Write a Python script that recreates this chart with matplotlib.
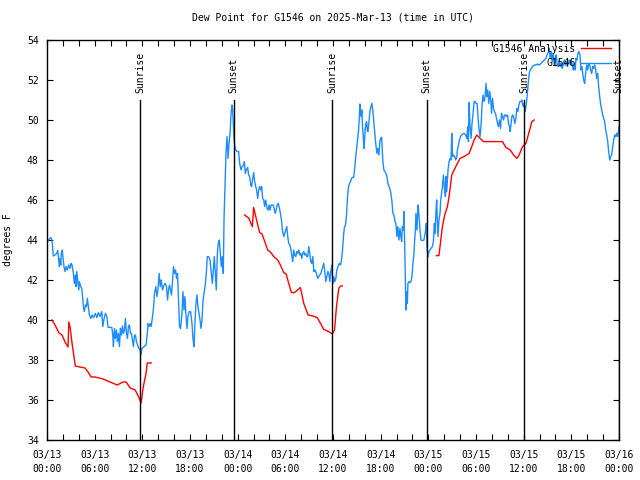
import numpy as np
import matplotlib
matplotlib.use('Agg')
import matplotlib.pyplot as plt

## Datos (horas desde 03/13 00:00 UTC, punto de rocio en F)

obs_horas = [0.0, 0.04, 0.16, 0.38, 0.50, 0.63, 0.72, 0.79, 1.01, 1.22, 1.35, 1.42, 1.55, 1.64, 1.73, 1.80,
             1.93, 2.02, 2.14, 2.27, 2.40, 2.56, 2.74, 2.90, 3.03, 3.15, 3.32, 3.44, 3.57, 3.66, 3.75, 3.87,
             4.00, 4.07, 4.25, 4.38, 4.50, 4.58, 4.70, 4.83, 4.96, 5.08, 5.21, 5.33, 5.51, 5.67, 5.84, 6.09,
             6.27, 6.47, 6.68, 6.90, 7.02, 7.19, 7.35, 7.53, 7.69, 7.94, 8.16, 8.28, 8.36, 8.49, 8.61, 8.74,
             8.86, 8.99, 9.12, 9.24, 9.37, 9.50, 9.62, 9.75, 9.87, 10.00, 10.13, 10.25, 10.38, 10.50, 10.63,
             10.76, 10.88, 11.01, 11.13, 11.26, 11.44, 11.56, 11.73, 11.82, 11.94, 12.23, 12.48, 12.65,
             12.70, 12.86, 12.99, 13.11, 13.28, 13.40, 13.53, 13.71, 13.83, 13.96, 14.12, 14.25, 14.38,
             14.54, 14.72, 14.88, 15.04, 15.17, 15.30, 15.42, 15.55, 15.67, 15.80, 15.93, 16.05, 16.18,
             16.31, 16.43, 16.56, 16.68, 16.81, 16.99, 17.11, 17.24, 17.36, 17.49, 17.62, 17.74, 17.91,
             18.07, 18.25, 18.37, 18.50, 18.63, 18.75, 18.88, 19.00, 19.13, 19.26, 19.38, 19.51, 19.63,
             19.76, 19.92, 20.05, 20.18, 20.34, 20.52, 20.68, 20.81, 20.93, 21.06, 21.19, 21.31, 21.44,
             21.56, 21.69, 21.82, 21.94, 22.07, 22.19, 22.28, 22.41, 22.53, 22.66, 22.79, 22.91, 23.04,
             23.17, 23.29, 23.37, 23.46, 23.54, 23.62, 23.75, 23.92, 24.12, 24.25, 24.43, 24.55, 24.68,
             24.84, 24.97, 25.09, 25.26, 25.38, 25.51, 25.64, 25.76, 25.89, 26.01, 26.14, 26.27, 26.39,
             26.52, 26.65, 26.77, 26.90, 27.02, 27.15, 27.28, 27.40, 27.53, 27.70, 27.83, 27.96, 28.08,
             28.21, 28.33, 28.46, 28.59, 28.71, 28.84, 28.97, 29.09, 29.22, 29.38, 29.51, 29.63, 29.80,
             29.92, 30.05, 30.18, 30.30, 30.43, 30.55, 30.68, 30.81, 30.93, 31.06, 31.18, 31.31, 31.44,
             31.56, 31.69, 31.82, 31.94, 32.07, 32.19, 32.32, 32.45, 32.57, 32.70, 32.82, 32.95, 33.08,
             33.20, 33.33, 33.46, 33.58, 33.71, 33.83, 33.96, 34.09, 34.21, 34.34, 34.46, 34.59, 34.72,
             34.84, 34.97, 35.09, 35.22, 35.35, 35.47, 35.60, 35.72, 35.85, 35.98, 36.10, 36.23, 36.36,
             36.48, 36.78, 36.95, 37.07, 37.20, 37.33, 37.45, 37.58, 37.70, 37.83, 37.96, 38.08, 38.21,
             38.33, 38.46, 38.59, 38.71, 38.84, 38.96, 39.09, 39.22, 39.31, 39.38, 39.47, 39.56, 39.63,
             39.72, 39.81, 39.89, 39.97, 40.06, 40.14, 40.23, 40.31, 40.39, 40.48, 40.57, 40.64, 40.77,
             40.89, 40.98, 41.07, 41.15, 41.27, 41.40, 41.53, 41.65, 41.78, 41.90, 41.99, 42.12, 42.21,
             42.28, 42.41, 42.53, 42.66, 42.79, 42.91, 43.04, 43.16, 43.29, 43.42, 43.54, 43.67, 43.80,
             43.92, 44.05, 44.17, 44.30, 44.43, 44.55, 44.64, 44.73, 44.85, 44.93, 45.02, 45.11, 45.18,
             45.27, 45.36, 45.43, 45.56, 45.69, 45.81, 45.94, 46.06, 46.19, 46.28, 46.37, 46.44, 46.57,
             46.70, 46.82, 46.95, 47.07, 47.25, 47.45, 47.63, 47.75, 47.83, 47.95, 48.08, 48.21, 48.33,
             48.51, 48.64, 48.76, 48.84, 48.97, 49.05, 49.14, 49.22, 49.34, 49.47, 49.56, 49.77, 49.90,
             50.02, 50.15, 50.23, 50.31, 50.48, 50.61, 50.73, 50.86, 50.95, 51.04, 51.16, 51.32, 51.45,
             51.58, 51.66, 51.79, 51.92, 52.08, 52.30, 52.50, 52.71, 52.84, 52.96, 53.05, 53.13, 53.25,
             53.38, 53.50, 53.63, 53.76, 53.88, 54.01, 54.14, 54.26, 54.39, 54.51, 54.64, 54.77, 54.89,
             55.02, 55.14, 55.27, 55.36, 55.48, 55.61, 55.74, 55.86, 55.95, 56.08, 56.20, 56.33, 56.45,
             56.58, 56.71, 56.83, 56.96, 57.09, 57.21, 57.34, 57.46, 57.59, 57.72, 57.84, 57.97, 58.09,
             58.22, 58.30, 58.39, 58.51, 58.64, 58.77, 58.89, 59.02, 59.14, 59.27, 59.40, 59.52, 59.65,
             59.78, 59.94, 60.07, 60.19, 60.32, 60.45, 60.57, 60.70, 60.82, 60.95, 61.13, 61.33, 61.54,
             61.75, 61.96, 62.17, 62.38, 62.58, 62.80, 63.01, 63.14, 63.21, 63.34, 63.47, 63.59, 63.72,
             63.84, 63.97, 64.10, 64.22, 64.35, 64.48, 64.60, 64.73, 64.85, 64.98, 65.11, 65.23, 65.36,
             65.48, 65.61, 65.74, 65.86, 65.99, 66.11, 66.24, 66.37, 66.49, 66.58, 66.71, 66.83, 66.96,
             67.09, 67.21, 67.34, 67.43, 67.55, 67.68, 67.80, 67.93, 68.06, 68.18, 68.31, 68.44, 68.56,
             68.69, 68.81, 68.94, 69.07, 69.19, 69.32, 69.44, 69.57, 69.70, 69.82, 69.95, 70.07, 70.20,
             70.32, 70.45, 70.58, 70.70, 70.83, 70.96, 71.08, 71.21, 71.33, 71.46, 71.59, 71.71, 71.84,
             71.96, 72.0]

obs_rocio = [43.83, 43.92, 44.0, 44.08, 44.13, 43.97, 43.58, 43.2, 43.25, 43.33, 43.47, 43.17, 42.67, 43.08,
             42.75, 43.33, 43.5, 43.08, 42.67, 42.42, 42.67, 42.5, 42.75, 42.58, 42.83, 42.75, 42.33, 41.83,
             42.25, 41.67, 42.42, 42.0, 41.5, 41.92, 41.67, 41.58, 41.08, 40.67, 40.42, 40.75, 40.67, 41.08,
             40.67, 40.25, 40.08, 40.25, 40.12, 40.33, 40.12, 40.37, 40.17, 40.42, 39.67, 40.08, 40.33, 40.17,
             39.63, 39.63, 39.63, 39.25, 38.67, 39.58, 39.08, 39.5, 38.92, 39.33, 38.67, 39.58, 39.25, 39.7,
             39.33, 39.5, 40.08, 39.33, 39.08, 39.67, 39.75, 39.33, 39.33, 39.0, 38.67, 39.2, 39.25, 38.92,
             38.7, 38.58, 38.5, 38.25, 38.58, 38.67, 38.75, 39.42,
             39.83, 39.67, 39.83, 39.67, 40.17, 40.58, 41.33, 41.67, 41.17, 41.5, 42.33, 41.67, 42.0, 41.5,
             41.75, 41.83, 41.67, 41.0, 41.5, 41.75, 41.5, 41.25, 42.0, 42.67, 42.33, 42.5, 42.08, 42.33,
             41.0, 39.67, 39.58, 40.33, 41.42, 40.5, 41.17, 40.25, 39.58, 40.17, 40.42, 40.42, 39.83, 39.08,
             38.67, 39.92, 40.83, 41.25, 40.67, 40.33, 40.0, 39.58, 40.0, 40.92, 41.33, 41.75, 42.33, 43.17,
             43.17, 43.0, 42.33, 41.83, 42.5, 43.17, 42.33, 41.5, 43.33, 43.83, 44.0, 43.33, 42.67, 43.17,
             42.33, 45.0, 46.67, 48.33, 49.17, 48.08, 48.83, 49.33, 50.33, 50.75, 50.5, 49.75, 49.08, 48.75,
             48.5, 48.42, 48.42, 47.83, 47.5, 47.67, 47.7, 47.92, 47.33, 47.5, 47.63, 47.25, 47.17, 46.75,
             46.67, 47.08, 47.37, 46.92, 46.67, 46.5, 46.08, 46.5, 46.67, 46.5, 46.67, 46.08, 46.0, 45.67,
             46.0, 45.58, 45.5, 45.75, 45.5, 45.75, 45.75, 45.75, 45.58, 45.33, 45.5, 45.75, 45.83, 45.67,
             45.33, 45.0, 44.5, 44.17, 44.33, 44.5, 44.67, 44.17, 43.83, 43.75, 43.58, 43.25, 42.92, 43.5,
             43.25, 43.17, 43.42, 43.33, 43.5, 43.25, 43.33, 43.08, 43.33, 43.42, 43.25, 43.33, 43.17, 43.17,
             43.67, 43.33, 42.92, 42.83, 43.17, 42.42, 42.5, 42.42, 42.25, 42.08, 42.17, 42.25, 42.33, 42.5,
             42.67, 42.83, 42.42, 41.92, 42.17, 42.42, 42.33, 41.92, 42.42, 42.75, 41.83, 42.17, 41.92, 42.08,
             42.5, 42.83, 42.75, 43.0, 43.5, 44.25, 44.67, 44.75, 45.25, 46.17, 46.67, 46.83, 46.92, 47.08,
             47.13, 47.13, 47.5, 48.08, 48.5, 49.0, 49.5, 50.08, 50.8, 50.42, 50.17, 50.5, 49.67, 49.17, 48.58,
             49.0, 49.58, 49.83, 49.92, 49.5, 49.42, 49.75, 50.08, 50.42, 50.67, 50.83, 50.58, 50.25, 49.83,
             49.33, 48.75, 48.33, 48.58, 48.25, 48.92, 49.08, 49.13, 48.42, 47.92, 47.5, 47.42, 47.33, 47.17,
             46.83, 46.67, 46.58, 46.33, 45.92, 45.33, 45.25, 44.92, 44.83, 44.17, 44.67, 44.0, 44.58, 44.17,
             43.92, 44.67, 44.5, 45.42, 43.83, 41.83, 40.5, 41.42, 40.83, 41.83, 41.92, 41.87, 41.92, 42.17,
             42.83, 43.33, 44.0, 44.5, 45.33, 44.5, 45.75, 45.25, 44.5, 44.0, 43.97, 44.0, 44.42, 44.83,
             43.67, 43.17, 43.42, 43.5, 43.58, 43.67, 43.92, 44.83, 44.33, 45.5, 46.0, 44.83, 44.17, 45.0,
             45.33, 46.0, 46.67, 47.25, 46.58, 46.17, 47.17, 46.42, 47.5, 47.92, 48.08, 48.0, 49.33, 48.17,
             48.25, 48.17, 48.0, 48.17, 48.5, 48.75, 49.0, 49.2, 49.3, 49.33, 49.25, 49.08, 49.67, 48.92,
             50.87, 49.67, 49.08, 49.83, 50.33, 50.92, 50.92, 50.83, 50.83, 50.08, 49.5, 49.17, 49.75, 50.83,
             51.25, 50.92, 51.17, 51.83, 51.17, 51.5, 50.83, 51.42, 51.0, 50.33, 51.08, 50.58, 50.42, 50.33,
             50.08, 49.83, 49.67, 50.0, 49.58, 50.33, 50.17, 50.0, 50.25, 50.25, 50.17, 50.25, 49.83, 49.67,
             49.42, 49.75, 50.17, 50.25, 50.08, 49.83, 50.08, 50.58, 50.42, 50.75, 50.92, 50.92, 51.0, 50.67,
             50.83, 50.42, 50.75, 51.25, 51.83, 52.33, 52.5, 52.58, 52.67, 52.75, 52.75, 52.8, 52.75, 52.83,
             52.92, 53.0, 53.08, 53.33, 53.42, 53.58, 53.08, 53.42, 52.92, 53.33, 52.75, 53.08, 53.25, 52.75,
             52.67, 53.0, 52.67, 52.83, 52.58, 52.75, 53.0, 52.75, 52.92, 52.67, 52.83, 53.0, 52.75, 53.0,
             52.75, 52.5, 52.83, 52.5, 53.08, 53.0, 53.33, 53.42, 53.25, 52.5, 52.67, 52.33, 52.0, 51.83,
             52.33, 52.75, 52.5, 52.83, 52.75, 52.5, 52.33, 52.67, 52.58, 52.75, 52.5, 52.08, 52.33, 51.67,
             51.17, 50.75, 50.5, 50.25, 50.08, 49.92, 49.5, 49.25, 48.92, 48.42, 48.0, 48.17, 48.25, 48.67,
             49.0, 49.25, 49.17, 49.33, 49.17, 49.5, 49.67]

# Analisis: tres tramos separados por nan
ana_horas = [0.63, 1.01, 1.51, 1.89, 2.27, 2.65, 2.74, 2.90, 3.15, 3.40, 3.57, 4.16, 4.79, 5.17, 5.55, 6.05,
             7.06, 7.94, 8.83, 9.58, 9.96, 10.47, 11.10, 11.60, 11.85, 12.11, 12.48, 12.61, 13.11, np.nan,
             24.88, 25.38, 25.85, 26.01, 26.23, 26.44, 26.77, 27.07, 27.49, 27.78, 28.12, 28.54, 29.04,
             29.38, 29.80, 30.10, 30.43, 30.77, 31.15, 31.90, 32.32, 32.87, 33.50, 34.01, 34.43, 34.84,
             35.47, 35.90, 36.19, 36.44, 36.73, 36.95, 37.16, np.nan,
             49.02, 49.34, 49.47, 49.77, 50.06, 50.40, 50.61, 50.82, 50.95, 51.24, 51.66, 51.99, 52.50,
             53.13, 53.43, 53.76, 54.10, 54.39, 54.94, 55.86, 57.34, 57.75, 58.30, 58.80, 59.14, 59.43,
             59.86, 60.28, 60.70, 61.03, 61.33]

ana_rocio = [40.0, 39.75, 39.35, 39.25, 38.9, 38.65, 39.9, 39.65, 38.85, 38.15, 37.7, 37.65, 37.6, 37.4,
             37.15, 37.15, 37.05, 36.9, 36.75, 36.9, 36.9, 36.6, 36.5, 36.1, 35.85, 36.65, 37.35, 37.85,
             37.85, np.nan,
             45.25, 45.1, 44.67, 45.63, 45.25, 44.9, 44.37, 44.3, 43.83, 43.5, 43.4, 43.17, 43.0, 42.75,
             42.37, 42.3, 41.83, 41.37, 41.37, 41.62, 40.83, 40.25, 40.2, 40.12, 39.83, 39.53, 39.42, 39.3,
             39.5, 40.67, 41.58, 41.7, 41.7, np.nan,
             43.22, 43.22, 43.67, 44.67, 45.25, 45.67, 46.17, 46.83, 47.25, 47.5, 47.83, 48.08, 48.17,
             48.33, 48.63, 49.0, 49.25, 49.13, 48.92, 48.92, 48.92, 48.63, 48.5, 48.22, 48.08, 48.25,
             48.67, 48.83, 49.42, 49.92, 50.0]

eventos = ['Sunrise', 'Sunset', 'Sunrise', 'Sunset', 'Sunrise', 'Sunset']
eventos_horas = [11.73, 23.52, 35.88, 47.79, 60.09, 71.94]

etiquetas_x = ['03/13\n00:00', '03/13\n06:00', '03/13\n12:00', '03/13\n18:00',
               '03/14\n00:00', '03/14\n06:00', '03/14\n12:00', '03/14\n18:00',
               '03/15\n00:00', '03/15\n06:00', '03/15\n12:00', '03/15\n18:00', '03/16\n00:00']

## Figura

plt.rcParams['font.family'] = 'DejaVu Sans Mono'
plt.rcParams['font.size'] = 7

fig = plt.figure(figsize=(6.4, 4.8), dpi=100)
ax = fig.add_axes([47/640, 40/480, 572/640, 400/480])

ax.plot(ana_horas, ana_rocio, color='#ff0000', lw=1.0, label='G1546 Analysis')
ax.plot(obs_horas, obs_rocio, color='#1e8cff', lw=1.0, label='G1546')

for nombre, h in zip(eventos, eventos_horas):
    ax.plot([h, h], [34, 51], color='black', lw=1.0)
    ax.text(h, 51.35, nombre, rotation=90, ha='center', va='bottom', fontsize=7)

ax.set_xlim(0, 72)
ax.set_ylim(34, 54)
ax.set_xticks(np.arange(0, 73, 6))
ax.set_xticklabels(etiquetas_x, linespacing=1.5)
ax.set_xticks(np.arange(0, 73, 2), minor=True)
ax.set_yticks(np.arange(34, 55, 2))
ax.tick_params(which='both', direction='in', top=True, right=True, length=4, width=0.8, pad=6)
ax.tick_params(axis='x', pad=7)
for s in ax.spines.values():
    s.set_linewidth(1.0)

ax.set_ylabel('degrees F', labelpad=10)
ax.set_title('Dew Point for G1546 on 2025-Mar-13 (time in UTC)', pad=14, fontsize=7)

leg = ax.legend(loc='upper right', bbox_to_anchor=(0.992, 1.0), frameon=False, markerfirst=False,
                handlelength=3.0, borderaxespad=0.0, labelspacing=0.45, handletextpad=0.6, fontsize=7)

fig.savefig('out.png', dpi=100)
